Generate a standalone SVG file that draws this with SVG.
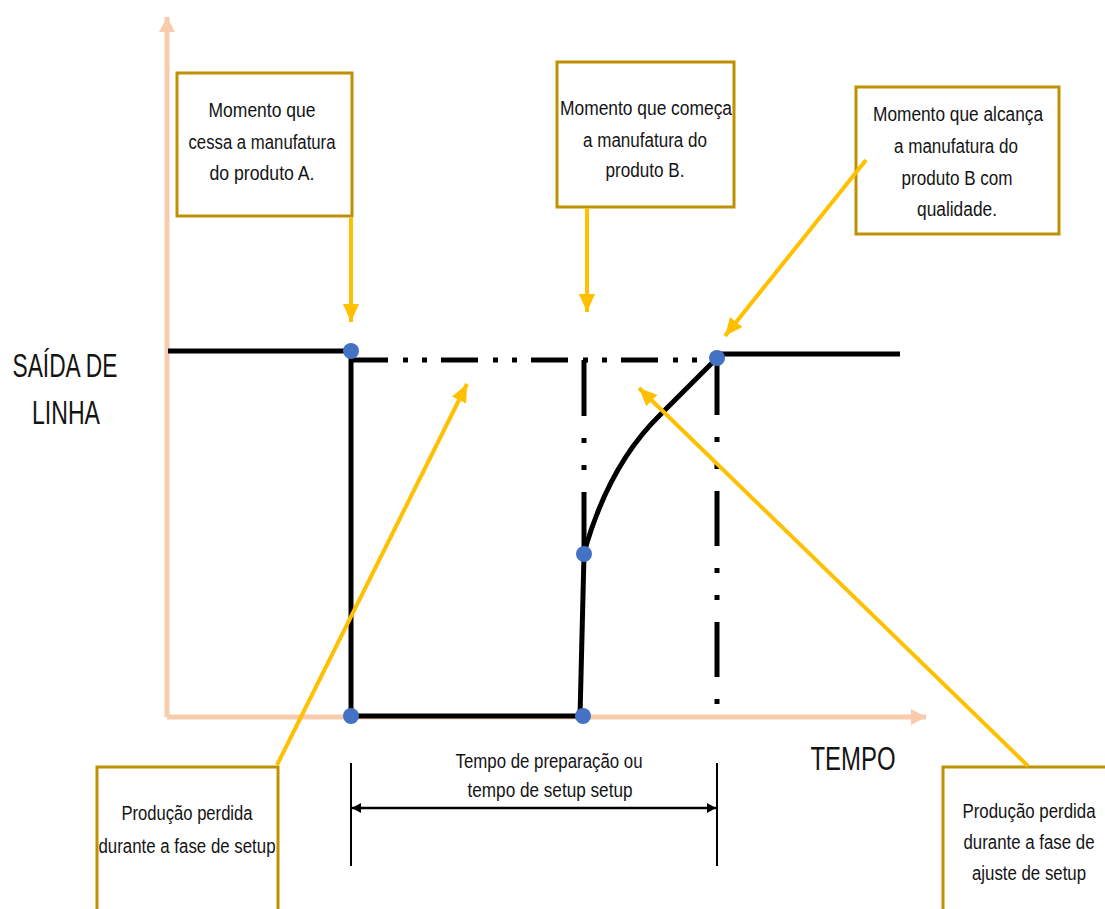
<svg xmlns="http://www.w3.org/2000/svg" width="1105" height="909" viewBox="0 0 1105 909">
<style>
.box{fill:#fff;stroke:#BF9000;stroke-width:3}
.t{font-family:"Liberation Sans",Arial,sans-serif;font-size:20px;fill:#141414;text-anchor:middle}
.big{font-family:"Liberation Sans",Arial,sans-serif;font-size:33px;fill:#141414;text-anchor:middle}
.axis{stroke:#F8CBAD;stroke-width:5;fill:none}
.blk{stroke:#000;stroke-width:5;fill:none}
.ya{stroke:#FFC000;stroke-width:4;fill:none;marker-end:url(#ay)}
.dot{fill:#4472C4}
</style>
<defs>
<marker id="ay" markerUnits="userSpaceOnUse" markerWidth="20" markerHeight="16" refX="18" refY="8" orient="auto">
<path d="M0,0 L18,8 L0,16 Z" fill="#FFC000"/>
</marker>
<marker id="ab" markerUnits="userSpaceOnUse" markerWidth="10" markerHeight="10" refX="9" refY="5" orient="auto-start-reverse">
<path d="M0,0 L9,5 L0,10 Z" fill="#000"/>
</marker>
<marker id="ap" markerUnits="userSpaceOnUse" markerWidth="16" markerHeight="16" refX="15" refY="8" orient="auto">
<path d="M0,0 L15,8 L0,16 Z" fill="#F8CBAD"/>
</marker>
</defs>

<g id="axes">
<line class="axis" x1="167" y1="717" x2="167" y2="17" marker-end="url(#ap)"/>
<line class="axis" x1="167" y1="717" x2="926" y2="717" marker-end="url(#ap)"/>
</g>

<g id="connectors">
<line class="blk" x1="168" y1="351" x2="351" y2="351"/>
<line class="blk" x1="351" y1="351" x2="351" y2="716" stroke-width="4"/>
<line class="blk" x1="351" y1="716" x2="584" y2="716"/>
<line class="blk" x1="351" y1="360" x2="717" y2="360" stroke-dasharray="37 15 5 14 5 14"/>
<line class="blk" x1="717" y1="354" x2="900" y2="354"/>
<line class="blk" x1="584" y1="360" x2="584" y2="553" stroke-width="4" stroke-dasharray="56 22 5 22 5 22"/>
<line class="blk" x1="717" y1="360" x2="717" y2="704" stroke-width="4" stroke-dasharray="55 22 5 22 5 22"/>
<path class="blk" d="M584,555 L580,716" stroke-width="4"/>
<path class="blk" d="M584,553 C598,503 622,452 660,415 L717,358" stroke-width="4"/>
<line x1="351" y1="763" x2="351" y2="866" stroke="#000" stroke-width="2"/>
<line x1="717" y1="763" x2="717" y2="866" stroke="#000" stroke-width="2"/>
<line x1="352" y1="808" x2="716" y2="808" stroke="#000" stroke-width="2.5" marker-start="url(#ab)" marker-end="url(#ab)"/>
</g>

<g id="boxA"><rect class="box" x="177" y="73" width="175" height="143"/>
<text class="t" x="262" y="117" textLength="107" lengthAdjust="spacingAndGlyphs">Momento  que</text>
<text class="t" x="262" y="149" textLength="147" lengthAdjust="spacingAndGlyphs">cessa a manufatura</text>
<text class="t" x="262" y="180" textLength="105" lengthAdjust="spacingAndGlyphs">do produto  A.</text></g>

<g id="boxB"><rect class="box" x="557" y="62" width="177" height="145"/>
<text class="t" x="646" y="115" textLength="172" lengthAdjust="spacingAndGlyphs">Momento  que começa</text>
<text class="t" x="645" y="147" textLength="124" lengthAdjust="spacingAndGlyphs">a manufatura do</text>
<text class="t" x="645" y="177" textLength="79" lengthAdjust="spacingAndGlyphs">produto  B.</text></g>

<g id="boxC"><rect class="box" x="856" y="87" width="203" height="147"/>
<text class="t" x="958" y="121" textLength="170" lengthAdjust="spacingAndGlyphs">Momento  que alcança</text>
<text class="t" x="956" y="153" textLength="124" lengthAdjust="spacingAndGlyphs">a manufatura do</text>
<text class="t" x="957" y="185" textLength="111" lengthAdjust="spacingAndGlyphs">produto  B com</text>
<text class="t" x="957" y="216" textLength="80" lengthAdjust="spacingAndGlyphs">qualidade.</text></g>

<g id="boxD"><rect class="box" x="97" y="767" width="181" height="150"/>
<text class="t" x="187" y="820" textLength="131" lengthAdjust="spacingAndGlyphs">Produção perdida</text>
<text class="t" x="187" y="853" textLength="177" lengthAdjust="spacingAndGlyphs">durante a fase de setup</text></g>

<g id="boxE"><rect class="box" x="943" y="767" width="170" height="150"/>
<text class="t" x="1029" y="818" textLength="133" lengthAdjust="spacingAndGlyphs">Produção perdida</text>
<text class="t" x="1029" y="849" textLength="131" lengthAdjust="spacingAndGlyphs">durante  a fase de</text>
<text class="t" x="1029" y="880" textLength="114" lengthAdjust="spacingAndGlyphs">ajuste de setup</text></g>

<g id="labels">
<text class="big" x="65" y="377" textLength="105" lengthAdjust="spacingAndGlyphs">SAÍDA DE</text>
<text class="big" x="66" y="424" textLength="68" lengthAdjust="spacingAndGlyphs">LINHA</text>
<text class="big" x="853" y="770" textLength="85" lengthAdjust="spacingAndGlyphs">TEMPO</text>
<text class="t" x="549" y="768" textLength="187" lengthAdjust="spacingAndGlyphs">Tempo de preparação ou</text>
<text class="t" x="550" y="797" textLength="165" lengthAdjust="spacingAndGlyphs">tempo de setup setup</text>
</g>

<g id="yellow-arrows">
<line class="ya" x1="351" y1="218" x2="351" y2="322"/>
<line class="ya" x1="587" y1="208" x2="587" y2="312"/>
<line class="ya" x1="866" y1="160" x2="725" y2="336"/>
<line class="ya" x1="277" y1="765" x2="467" y2="384"/>
<line class="ya" x1="1028" y1="766" x2="639" y2="388"/>
</g>

<g id="points">
<circle class="dot" cx="351" cy="351" r="8"/>
<circle class="dot" cx="351" cy="716" r="8"/>
<circle class="dot" cx="583" cy="716" r="8"/>
<circle class="dot" cx="584" cy="554" r="8"/>
<circle class="dot" cx="717" cy="358" r="8"/>
</g>
</svg>
